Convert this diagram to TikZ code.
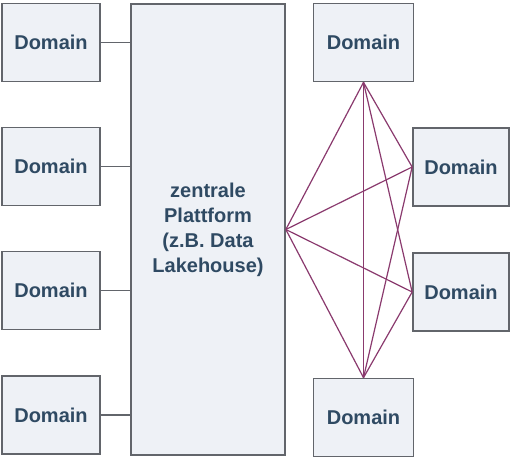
\documentclass[tikz,border=0pt]{standalone}
\usepackage{fontspec}
\setmainfont{Liberation Sans}
\definecolor{boxfill}{HTML}{EEF1F6}
\definecolor{boxline}{HTML}{62656B}
\definecolor{labeltext}{HTML}{2F4A63}
\definecolor{meshline}{HTML}{8A3A6E}
\begin{document}
\begin{tikzpicture}[x=1pt,y=-1pt,
  domainbox/.style={draw=boxline, line width=1.7pt, fill=boxfill, minimum width=98pt, minimum height=78pt,
    inner sep=0pt, font=\fontsize{20}{24}\selectfont\bfseries, text=labeltext},
  platform/.style={draw=boxline, line width=1.7pt, fill=boxfill, minimum width=154pt, minimum height=451pt,
    inner sep=0pt, align=center, font=\fontsize{20}{25}\selectfont\bfseries, text=labeltext},
  link/.style={draw=boxline, line width=1.7pt},
  mesh/.style={draw=meshline, line width=1.2pt}]
\useasboundingbox (0,0) rectangle (512,458);
\fill[white] (0,0) rectangle (512,458);

% central platform
\node[platform] (p) at (208,229.5) {zentrale\\Plattform\\(z.B. Data\\Lakehouse)};

% domains on the left, each tied to the platform
\node[domainbox] (l1) at (51,42.5) {Domain};
\node[domainbox] (l2) at (51,166.5) {Domain};
\node[domainbox] (l3) at (51,290.5) {Domain};
\node[domainbox] (l4) at (51,415) {Domain};
\foreach \n in {l1,l2,l3,l4}
  \draw[link] (\n.east) -- (\n.east -| p.west);

% domains on the right
\node[domainbox, minimum width=100pt] (r1) at (363.5,42.5) {Domain};
\node[domainbox, minimum width=96pt] (r2) at (461,167) {Domain};
\node[domainbox, minimum width=96pt] (r3) at (461,292) {Domain};
\node[domainbox, minimum width=100pt] (r4) at (363.5,417.5) {Domain};

% mesh of peer connections
\coordinate (hub) at (p.east);
\coordinate (t) at (r1.south);
\coordinate (b) at (r4.north);
\coordinate (m2) at (r2.west);
\coordinate (m3) at (r3.west);
\draw[mesh] (hub) -- (t);
\draw[mesh] (hub) -- (m2);
\draw[mesh] (hub) -- (m3);
\draw[mesh] (hub) -- (b);
\draw[mesh] (t) -- (m2);
\draw[mesh] (t) -- (m3);
\draw[mesh] (t) -- (b);
\draw[mesh] (b) -- (m2);
\draw[mesh] (b) -- (m3);
\end{tikzpicture}
\end{document}
